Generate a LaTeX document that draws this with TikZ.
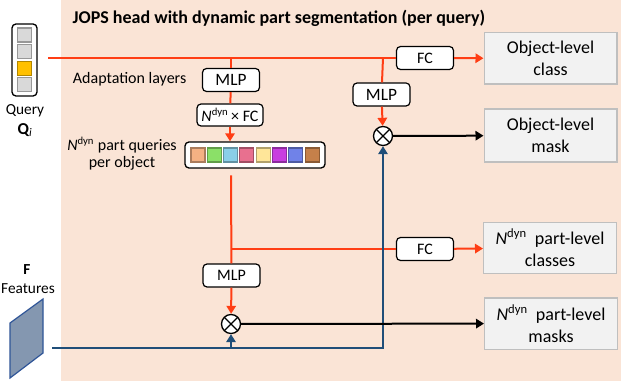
\documentclass[tikz,border=0pt]{standalone}
\usepackage{fontspec}
\setmainfont{Carlito}
\usetikzlibrary{arrows.meta}
\definecolor{pch}{RGB}{250,228,214}
\definecolor{rdx}{RGB}{255,61,20}
\definecolor{blx}{RGB}{31,78,121}
\definecolor{gyx}{RGB}{242,242,242}
\definecolor{gyb}{RGB}{191,191,191}
\definecolor{qgy}{RGB}{217,217,217}
\definecolor{qyl}{RGB}{255,192,0}
\definecolor{ftx}{RGB}{132,151,176}
\definecolor{ftb}{RGB}{47,85,151}
\tikzset{
    lyr/.style={draw,fill=white,rounded corners=3pt,line width=0.9pt,inner sep=0pt,
        minimum width=42.75pt,minimum height=17.25pt,font=\fontsize{12}{13}\selectfont},
    outb/.style={draw=gyb,fill=gyx,line width=1pt,align=center,inner sep=0pt,
        minimum width=99.5pt,minimum height=38.5pt,font=\fontsize{13.5}{16.5}\selectfont},
    cell/.style={draw=#1!70!black,fill=#1,line width=0.8pt,inner sep=0pt,minimum size=10.5pt},
    rln/.style={rdx,line width=1.5pt},
    bln/.style={blx,line width=1.5pt},
    kln/.style={black,line width=1.5pt},
    tip/.style={-{Triangle[width=7pt,length=6pt]}},
    mul/.style={circle,draw,fill=white,line width=1pt,inner sep=0pt,minimum size=14.25pt,
        path picture={\draw[line width=1pt] (path picture bounding box.north west)
            -- (path picture bounding box.south east)
            (path picture bounding box.north east)
            -- (path picture bounding box.south west);}}
}
\newcommand{\ndyn}{\textit{N}\textsuperscript{dyn}}
\begin{document}
\begin{tikzpicture}[x=0.75pt,y=-0.75pt]
    \useasboundingbox (0,0) rectangle (621,381);
    \fill[pch] (61,0) rectangle (621,381);
    \node[anchor=west,font=\fontsize{13.5}{15}\selectfont\bfseries] (title) at (68,18)
        {JOPS head with dynamic part segmentation (per query)};
    % query vector
    \node[draw,rounded corners=3pt,line width=1pt,minimum width=18.75pt,minimum height=54pt] (qbox) at (24.5,60) {};
    \node[cell=qgy] (q1) at (24.5,35) {};
    \node[cell=qgy] (q2) at (24.5,51.5) {};
    \node[cell=qyl] (q3) at (24.5,68.5) {};
    \node[cell=qgy] (q4) at (24.5,84.5) {};
    \node[font=\fontsize{11.5}{13}\selectfont] (qtxt) at (25,111) {Query};
    \node[font=\fontsize{12.5}{13}\selectfont] (qsym) at (25,130) {{\bfseries Q}\textsubscript{\itshape i}};
    % features
    \draw[ftb,fill=ftx,line width=0.9pt] (10,323) -- (43,299) -- (43,353) -- (10,378) -- cycle;
    \node[font=\fontsize{11.5}{13}\selectfont\bfseries] (ftxt) at (27,270) {F};
    \node[font=\fontsize{11.5}{13}\selectfont] (fname) at (28,289) {Features};
    \coordinate (qout) at (48,58);
    \coordinate (fout) at (52,348);
    \coordinate (ja) at (231,58);
    \coordinate (jb) at (383,58);
    \coordinate (jc) at (231,249);
    % adaptation layers
    \node[anchor=east,font=\fontsize{12}{13}\selectfont] (adtxt) at (191,79) {Adaptation layers};
    \node[lyr,font=\fontsize{13}{14}\selectfont] (mlpa) at (231,80) {MLP};
    \node[lyr,minimum width=49.5pt,minimum height=16.5pt] (nfc) at (230,115) {\ndyn\,× FC};
    \node[draw,fill=white,rounded corners=3pt,line width=1pt,minimum width=105pt,minimum height=19.5pt] (parts) at (255,155) {};
    \foreach \c [count=\k from 0] in {{244,177,131},{139,224,104},{138,207,232},{232,112,143},{255,230,153},{200,62,224},{112,130,232},{197,128,74}} {
        \definecolor{pq}{RGB}{\c}
        \node[cell=pq] (p\k) at (198+16.3*\k,155) {};
    }
    \node[align=center,font=\fontsize{12}{12.75}\selectfont] (pqtxt) at (122,154) {\ndyn\ part queries\\per object};
    \node[lyr,font=\fontsize{13}{14}\selectfont] (mlpb) at (381.5,94.5) {MLP};
    \node[mul] (mulo) at (383,136) {};
    \node[lyr] (fca) at (425,58) {FC};
    \node[lyr] (fcb) at (425,249) {FC};
    \node[lyr] (mlpc) at (231.5,275.5) {MLP};
    \node[mul] (mulp) at (231,324) {};
    % outputs
    \node[outb] (oclass) at (550.5,58.5) {Object-level\\class};
    \node[outb,minimum height=39.75pt] (omask) at (550.5,135.5) {Object-level\\mask};
    \node[outb] (pclass) at (550,248) {\ndyn\ \ part-level\\classes};
    \node[outb] (pmask) at (551,323.5) {\ndyn\ \ part-level\\masks};
    % red query paths
    \draw[rln] (qout) -- (fca);
    \draw[rln,tip] (fca) -- (oclass);
    \draw[rln] (ja) -- (mlpa);
    \draw[rln] (mlpa) -- (nfc);
    \draw[rln,tip] (nfc) -- (parts.north -| nfc);
    \draw[rln] ([yshift=-5pt]parts.south -| ja) -- (mlpc);
    \draw[rln] (jc) -- (fcb);
    \draw[rln,tip] (fcb) -- (pclass);
    \draw[rln,tip] (mlpc) -- (mulp);
    \draw[rln] (jb) -- (mlpb);
    \draw[rln,tip] (mlpb) -- (mulo);
    % feature paths
    \draw[bln,tip] (fout) -| (mulo);
    \draw[bln,tip] (fout -| mulp) -- (mulp);
    \draw[kln,tip] (mulo) -- (omask);
    \draw[kln,tip] (mulp) -- (pmask);
\end{tikzpicture}
\end{document}
